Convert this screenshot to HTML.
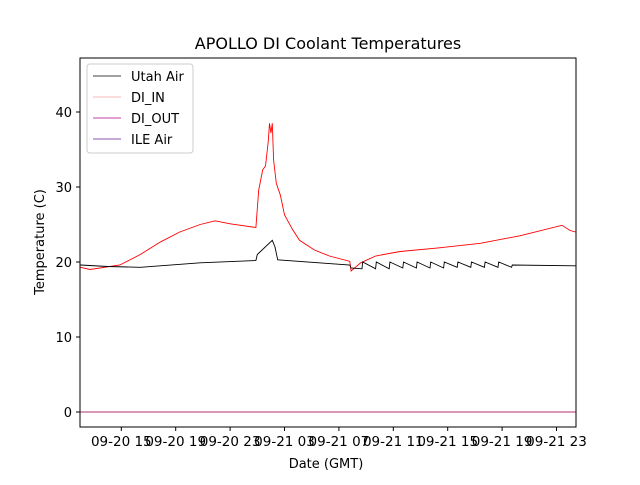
<!DOCTYPE html>
<html><head><meta charset="utf-8"><style>
body{margin:0;background:#fff;font-family:"Liberation Sans","DejaVu Sans",sans-serif}
svg text{font-family:"DejaVu Sans","Liberation Sans",sans-serif}
</style></head><body>
<svg id="c" width="640" height="480" xmlns="http://www.w3.org/2000/svg">
<rect width="640" height="480" fill="#fff"/>
<text x="328" y="49" font-size="16" text-anchor="middle">APOLLO DI Coolant Temperatures</text>
<g id="plot"></g>
<rect x="80" y="58" width="496" height="369" fill="none" stroke="#000" stroke-width="1"/>
<g id="axes"></g>
<text x="326" y="468" font-size="13" text-anchor="middle">Date (GMT)</text>
<text transform="translate(44,242) rotate(-90)" font-size="13" text-anchor="middle">Temperature (C)</text>
<g>
<rect x="87" y="64" width="106" height="89" fill="#fff" stroke="#ccc" rx="3"/>
<line x1="93" y1="76" x2="121" y2="76" stroke="#000" stroke-width="0.8"/><text x="131" y="81" font-size="13">Utah Air</text>
<line x1="93" y1="97" x2="121" y2="97" stroke="#f0a0a0" stroke-width="0.8"/><text x="131" y="102" font-size="13">DI_IN</text>
<line x1="93" y1="118" x2="121" y2="118" stroke="#b0008c" stroke-width="0.8"/><text x="131" y="123" font-size="13">DI_OUT</text>
<line x1="93" y1="139" x2="121" y2="139" stroke="#6a1a8a" stroke-width="0.8"/><text x="131" y="144" font-size="13">ILE Air</text>
</g>
</svg>
<script>
const xTickHours=[15,19,23,27,31,35,39,43,47];
const xTickLabels=["09-20 15","09-20 19","09-20 23","09-21 03","09-21 07","09-21 11","09-21 15","09-21 19","09-21 23"];
const yTicks=[0,10,20,30,40];
const redHours=[12.0,12.7,14.9,16.4,17.9,19.3,20.8,21.9,23.0,24.9,25.1,25.4,25.6,25.8,25.9,26.0,26.1,26.2,26.4,26.7,27.0,27.6,28.1,29.2,30.3,31.8,31.9,32.6,33.7,35.5,38.4,41.4,44.3,47.4,48.0,48.4];
const redValues=[19.3,19.0,19.6,21.0,22.7,24.0,25.0,25.5,25.1,24.6,29.6,32.3,32.8,36.0,38.5,37.2,38.5,33.6,30.5,28.9,26.3,24.3,22.9,21.6,20.8,20.1,18.8,19.9,20.8,21.4,21.9,22.5,23.5,24.9,24.2,24.0];
const blackHours=[12,14,16.4,20.8,24.9,25.0,26.1,26.3,26.5,31.8,31.9,32.7,32.75,33.7,33.75,34.7,34.75,35.7,35.75,36.7,36.75,37.7,37.75,38.7,38.75,39.7,39.75,40.7,40.75,41.7,41.75,42.7,42.75,43.7,43.75,48.4];
const blackValues=[19.6,19.4,19.3,19.9,20.2,21.0,22.9,22.0,20.3,19.6,19.2,19.1,20.0,19.1,20.0,19.1,20.0,19.2,20.0,19.2,20.0,19.2,20.0,19.2,20.0,19.3,20.0,19.3,20.0,19.3,20.0,19.3,20.0,19.3,19.6,19.5];
const outHours=[12,48.4];
const outValues=[0,0];
const NS="http://www.w3.org/2000/svg";
const X=h=>-82.7+h*13.6;
const Y=v=>412-v*7.5;
const plot=document.getElementById('plot'),axes=document.getElementById('axes');
function line(hs,vs,color,name){
 const p=document.createElementNS(NS,'polyline');
 p.setAttribute('points',hs.map((h,i)=>X(h).toFixed(1)+','+Y(vs[i]).toFixed(1)).join(' '));
 p.setAttribute('fill','none');p.setAttribute('stroke',color);p.setAttribute('stroke-width','0.9');
 
 
 plot.appendChild(p);
}
line(outHours,outValues,'#b0306e','di-out-series');
line(redHours,redValues,'#ff0000','di-in-series');
line(blackHours,blackValues,'#000','utah-air-series');
xTickHours.forEach((h,i)=>{
 const x=X(h);
 const t=document.createElementNS(NS,'line');
 t.setAttribute('x1',x);t.setAttribute('x2',x);t.setAttribute('y1',427);t.setAttribute('y2',431);t.setAttribute('stroke','#000');
 
 
 axes.appendChild(t);
 const l=document.createElementNS(NS,'text');
 l.setAttribute('x',x);l.setAttribute('y',446);l.setAttribute('font-size','13.5');l.setAttribute('text-anchor','middle');
 l.textContent=xTickLabels[i];
 
 
 axes.appendChild(l);
});
yTicks.forEach(v=>{
 const y=Y(v);
 const t=document.createElementNS(NS,'line');
 t.setAttribute('x1',76);t.setAttribute('x2',80);t.setAttribute('y1',y);t.setAttribute('y2',y);t.setAttribute('stroke','#000');
 
 
 axes.appendChild(t);
 const l=document.createElementNS(NS,'text');
 l.setAttribute('x',72);l.setAttribute('y',y+5);l.setAttribute('font-size','13');l.setAttribute('text-anchor','end');
 l.textContent=v;
 
 
 axes.appendChild(l);
});
</script>
</body></html>
